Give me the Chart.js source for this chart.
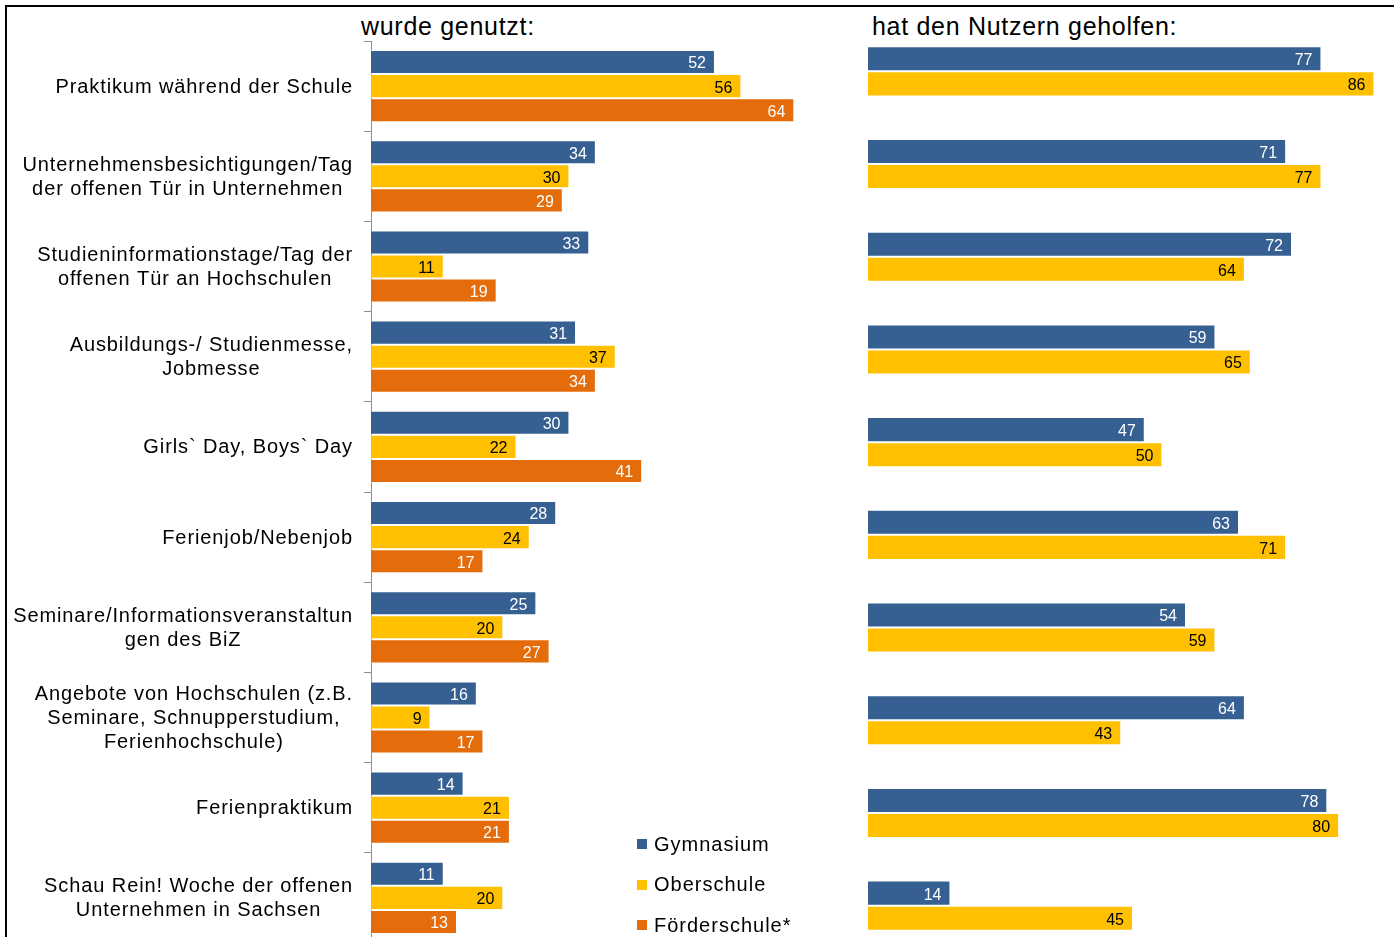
<!DOCTYPE html>
<html>
<head>
<meta charset="utf-8">
<script src="https://cdn.jsdelivr.net/npm/chart.js@4.4.1/dist/chart.umd.min.js"></script>
<style>
html, body { margin: 0; padding: 0; width: 1394px; height: 937px; overflow: hidden; background: #fff; font-family: "Liberation Sans", Arial, sans-serif; }
#frameTop { position: absolute; left: 5px; top: 5px; width: 1389px; height: 2px; background: #000; }
#frameLeft { position: absolute; left: 5px; top: 5px; width: 2px; height: 932px; background: #000; }
.title { position: absolute; top: 14px; font-size: 25px; line-height: 25px; letter-spacing: 0.7px; color: #000; white-space: nowrap; }
#usedBox { position: absolute; left: 0; top: 41px; width: 834px; height: 902px; }
#helpedBox { position: absolute; left: 868px; top: 24.7px; width: 530px; height: 927px; }
#legend { position: absolute; left: 637px; top: 824px; }
.item { height: 40.5px; display: flex; align-items: center; font-size: 20px; letter-spacing: 1px; color: #000; white-space: nowrap; }
.item span { display: inline-block; width: 10px; height: 10px; margin-right: 7px; }
</style>
</head>
<body>
<div id="frameTop"></div>
<div id="frameLeft"></div>
<div class="title" style="left:361px">wurde genutzt:</div>
<div class="title" style="left:872px">hat den Nutzern geholfen:</div>
<div id="usedBox"><canvas id="usedChart"></canvas></div>
<div id="helpedBox"><canvas id="helpedChart"></canvas></div>
<div id="legend"></div>
<script>
const categories = [
    ['Praktikum während der Schule'],
    ['Unternehmensbesichtigungen/Tag', 'der offenen Tür in Unternehmen'],
    ['Studieninformationstage/Tag der', 'offenen Tür an Hochschulen'],
    ['Ausbildungs-/ Studienmesse,', 'Jobmesse'],
    ['Girls` Day, Boys` Day'],
    ['Ferienjob/Nebenjob'],
    ['Seminare/Informationsveranstaltun', 'gen des BiZ'],
    ['Angebote von Hochschulen (z.B.', 'Seminare, Schnupperstudium,', 'Ferienhochschule)'],
    ['Ferienpraktikum'],
    ['Schau Rein! Woche der offenen', 'Unternehmen in Sachsen']
];
const schoolTypes = ['Gymnasium', 'Oberschule', 'Förderschule*'];
const colors = ['#376092', '#FFC000', '#E46C0A'];
const labelColors = ['#ffffff', '#000000', '#ffffff'];

// wurde genutzt (%)
const usedGymnasium = [52, 34, 33, 31, 30, 28, 25, 16, 14, 11];
const usedOberschule = [56, 30, 11, 37, 22, 24, 20, 9, 21, 20];
const usedFoerderschule = [64, 29, 19, 34, 41, 17, 27, 17, 21, 13];

// hat den Nutzern geholfen (%)
const helpedGymnasium = [77, 71, 72, 59, 47, 63, 54, 64, 78, 14];
const helpedOberschule = [86, 77, 64, 65, 50, 71, 59, 43, 80, 45];

// numbers written at the end of each bar
const valueLabels = {
    id: 'valueLabels',
    afterDatasetsDraw(chart) {
        const ctx = chart.ctx;
        ctx.save();
        ctx.letterSpacing = '0px';
        ctx.font = '16px "Liberation Sans", Arial, sans-serif';
        ctx.textAlign = 'right';
        ctx.textBaseline = 'middle';
        chart.data.datasets.forEach((ds, i) => {
            chart.getDatasetMeta(i).data.forEach((bar, j) => {
                ctx.fillStyle = labelColors[i];
                ctx.fillText(ds.data[j], bar.x - 9, bar.y + 2);
            });
        });
        ctx.restore();
    }
};

// category names: block right aligned, lines centred on each other
const categoryLabels = {
    id: 'categoryLabels',
    afterDraw(chart) {
        const scale = chart.scales.y;
        const ctx = chart.ctx;
        ctx.save();
        ctx.font = '20px "Liberation Sans", Arial, sans-serif';
        ctx.letterSpacing = '0.9px';
        ctx.fillStyle = '#000';
        ctx.textAlign = 'center';
        ctx.textBaseline = 'middle';
        const right = scale.right - 18;
        chart.data.labels.forEach((lines, i) => {
            const widest = Math.max(...lines.map(l => ctx.measureText(l).width));
            const cx = right - widest / 2;
            const y0 = scale.getPixelForTick(i) + 1 - (lines.length - 1) * 12;
            lines.forEach((l, k) => ctx.fillText(l, cx, y0 + k * 24));
        });
        ctx.restore();
    }
};

function makeDataset(i, values) {
    return {
        label: schoolTypes[i],
        data: values,
        backgroundColor: colors[i],
        borderColor: 'rgba(255,255,255,0.55)',
        borderWidth: 1,
        borderSkipped: 'start'
    };
}

new Chart(document.getElementById('usedChart'), {
    type: 'bar',
    data: {
        labels: categories,
        datasets: [
            makeDataset(0, usedGymnasium),
            makeDataset(1, usedOberschule),
            makeDataset(2, usedFoerderschule)
        ]
    },
    options: {
        indexAxis: 'y',
        responsive: true,
        maintainAspectRatio: false,
        animation: false,
        events: [],
        devicePixelRatio: 1,
        categoryPercentage: 0.8,
        barPercentage: 1,
        layout: { padding: 0 },
        plugins: { legend: { display: false }, tooltip: { enabled: false } },
        scales: {
            x: { display: false, min: 0, max: 70 },
            y: {
                display: true,
                grid: { display: true, drawOnChartArea: false, drawTicks: true, tickLength: 7, color: '#8c8c8c', offset: true },
                border: { display: true, color: '#8c8c8c', width: 1 },
                ticks: { display: false },
                afterFit(scale) {
                    scale.width = 371;
                    scale.paddingTop = 0;
                    scale.paddingBottom = 0;
                }
            }
        }
    },
    plugins: [valueLabels, categoryLabels]
});

new Chart(document.getElementById('helpedChart'), {
    type: 'bar',
    data: {
        labels: categories,
        datasets: [
            makeDataset(0, helpedGymnasium),
            makeDataset(1, helpedOberschule)
        ]
    },
    options: {
        indexAxis: 'y',
        responsive: true,
        maintainAspectRatio: false,
        animation: false,
        events: [],
        devicePixelRatio: 1,
        categoryPercentage: 0.54,
        barPercentage: 1,
        layout: { padding: 0 },
        plugins: { legend: { display: false }, tooltip: { enabled: false } },
        scales: {
            x: { display: false, min: 0, max: 90 },
            y: { display: false }
        }
    },
    plugins: [valueLabels]
});

const legend = document.getElementById('legend');
schoolTypes.forEach((name, i) => {
    const row = document.createElement('div');
    row.className = 'item';
    const box = document.createElement('span');
    box.style.background = colors[i];
    row.appendChild(box);
    row.appendChild(document.createTextNode(name));
    legend.appendChild(row);
});
</script>
</body>
</html>
